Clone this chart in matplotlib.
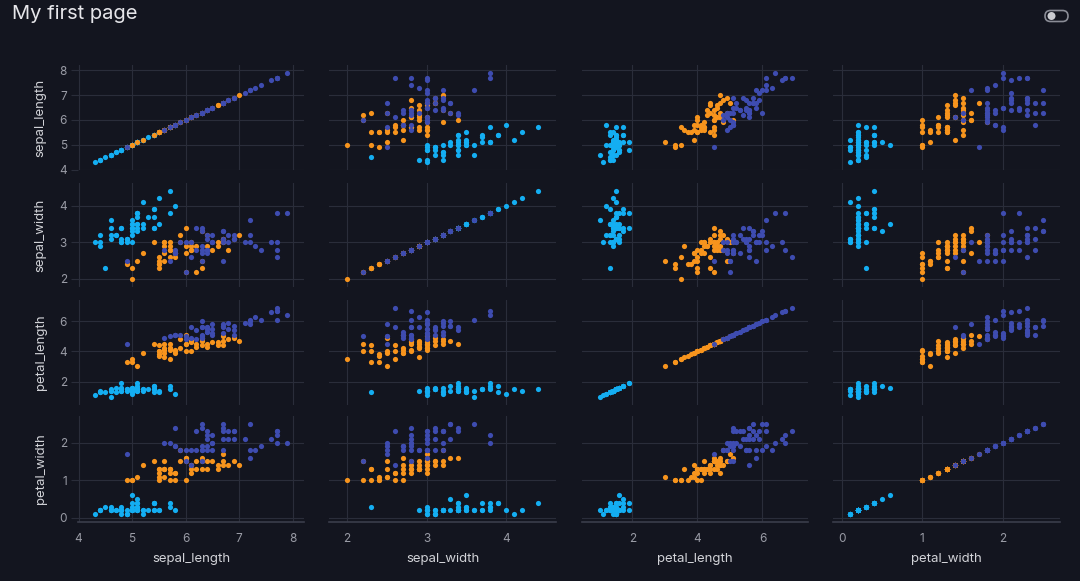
"""Scatter matrix of the iris measurements, dark dashboard style."""

import matplotlib
matplotlib.use("Agg")
import matplotlib.pyplot as plt
from matplotlib.patches import FancyBboxPatch, Circle

# iris measurements (setosa 1-50, versicolor 51-100, virginica 101-150)
sepal_length = [
    5.1, 4.9, 4.7, 4.6, 5.0, 5.4, 4.6, 5.0, 4.4, 4.9, 5.4, 4.8, 4.8, 4.3, 5.8, 5.7, 5.4, 5.1, 5.7, 5.1,
    5.4, 5.1, 4.6, 5.1, 4.8, 5.0, 5.0, 5.2, 5.2, 4.7, 4.8, 5.4, 5.2, 5.5, 4.9, 5.0, 5.5, 4.9, 4.4, 5.1,
    5.0, 4.5, 4.4, 5.0, 5.1, 4.8, 5.1, 4.6, 5.3, 5.0,
    7.0, 6.4, 6.9, 5.5, 6.5, 5.7, 6.3, 4.9, 6.6, 5.2, 5.0, 5.9, 6.0, 6.1, 5.6, 6.7, 5.6, 5.8, 6.2, 5.6,
    5.9, 6.1, 6.3, 6.1, 6.4, 6.6, 6.8, 6.7, 6.0, 5.7, 5.5, 5.5, 5.8, 6.0, 5.4, 6.0, 6.7, 6.3, 5.6, 5.5,
    5.5, 6.1, 5.8, 5.0, 5.6, 5.7, 5.7, 6.2, 5.1, 5.7,
    6.3, 5.8, 7.1, 6.3, 6.5, 7.6, 4.9, 7.3, 6.7, 7.2, 6.5, 6.4, 6.8, 5.7, 5.8, 6.4, 6.5, 7.7, 7.7, 6.0,
    6.9, 5.6, 7.7, 6.3, 6.7, 7.2, 6.2, 6.1, 6.4, 7.2, 7.4, 7.9, 6.4, 6.3, 6.1, 7.7, 6.3, 6.4, 6.0, 6.9,
    6.7, 6.9, 5.8, 6.8, 6.7, 6.7, 6.3, 6.5, 6.2, 5.9,
]
sepal_width = [
    3.5, 3.0, 3.2, 3.1, 3.6, 3.9, 3.4, 3.4, 2.9, 3.1, 3.7, 3.4, 3.0, 3.0, 4.0, 4.4, 3.9, 3.5, 3.8, 3.8,
    3.4, 3.7, 3.6, 3.3, 3.4, 3.0, 3.4, 3.5, 3.4, 3.2, 3.1, 3.4, 4.1, 4.2, 3.1, 3.2, 3.5, 3.1, 3.0, 3.4,
    3.5, 2.3, 3.2, 3.5, 3.8, 3.0, 3.8, 3.2, 3.7, 3.3,
    3.2, 3.2, 3.1, 2.3, 2.8, 2.8, 3.3, 2.4, 2.9, 2.7, 2.0, 3.0, 2.2, 2.9, 2.9, 3.1, 3.0, 2.7, 2.2, 2.5,
    3.2, 2.8, 2.5, 2.8, 2.9, 3.0, 2.8, 3.0, 2.9, 2.6, 2.4, 2.4, 2.7, 2.7, 3.0, 3.4, 3.1, 2.3, 3.0, 2.5,
    2.6, 3.0, 2.6, 2.3, 2.7, 3.0, 2.9, 2.9, 2.5, 2.8,
    3.3, 2.7, 3.0, 2.9, 3.0, 3.0, 2.5, 2.9, 2.5, 3.6, 3.2, 2.7, 3.0, 2.5, 2.8, 3.2, 3.0, 3.8, 2.6, 2.2,
    3.2, 2.8, 2.8, 2.7, 3.3, 3.2, 2.8, 3.0, 2.8, 3.0, 2.8, 3.8, 2.8, 2.8, 2.6, 3.0, 3.4, 3.1, 3.0, 3.1,
    3.1, 3.1, 2.7, 3.2, 3.3, 3.0, 2.5, 3.0, 3.4, 3.0,
]
petal_length = [
    1.4, 1.4, 1.3, 1.5, 1.4, 1.7, 1.4, 1.5, 1.4, 1.5, 1.5, 1.6, 1.4, 1.1, 1.2, 1.5, 1.3, 1.4, 1.7, 1.5,
    1.7, 1.5, 1.0, 1.7, 1.9, 1.6, 1.6, 1.5, 1.4, 1.6, 1.6, 1.5, 1.5, 1.4, 1.5, 1.2, 1.3, 1.5, 1.3, 1.5,
    1.3, 1.3, 1.3, 1.6, 1.9, 1.4, 1.6, 1.4, 1.5, 1.4,
    4.7, 4.5, 4.9, 4.0, 4.6, 4.5, 4.7, 3.3, 4.6, 3.9, 3.5, 4.2, 4.0, 4.7, 3.6, 4.4, 4.5, 4.1, 4.5, 3.9,
    4.8, 4.0, 4.9, 4.7, 4.3, 4.4, 4.8, 5.0, 4.5, 3.5, 3.8, 3.7, 3.9, 5.1, 4.5, 4.5, 4.7, 4.4, 4.1, 4.0,
    4.4, 4.6, 4.0, 3.3, 4.2, 4.2, 4.2, 4.3, 3.0, 4.1,
    6.0, 5.1, 5.9, 5.6, 5.8, 6.6, 4.5, 6.3, 5.8, 6.1, 5.1, 5.3, 5.5, 5.0, 5.1, 5.3, 5.5, 6.7, 6.9, 5.0,
    5.7, 4.9, 6.7, 4.9, 5.7, 6.0, 4.8, 4.9, 5.6, 5.8, 6.1, 6.4, 5.6, 5.1, 5.6, 6.1, 5.6, 5.5, 4.8, 5.4,
    5.6, 5.1, 5.1, 5.9, 5.7, 5.2, 5.0, 5.2, 5.4, 5.1,
]
petal_width = [
    0.2, 0.2, 0.2, 0.2, 0.2, 0.4, 0.3, 0.2, 0.2, 0.1, 0.2, 0.2, 0.1, 0.1, 0.2, 0.4, 0.4, 0.3, 0.3, 0.3,
    0.2, 0.4, 0.2, 0.5, 0.2, 0.2, 0.4, 0.2, 0.2, 0.2, 0.2, 0.4, 0.1, 0.2, 0.1, 0.2, 0.2, 0.1, 0.2, 0.2,
    0.3, 0.3, 0.2, 0.6, 0.4, 0.3, 0.2, 0.2, 0.2, 0.2,
    1.4, 1.5, 1.5, 1.3, 1.5, 1.3, 1.6, 1.0, 1.3, 1.4, 1.0, 1.5, 1.0, 1.4, 1.3, 1.4, 1.5, 1.0, 1.5, 1.1,
    1.8, 1.3, 1.5, 1.2, 1.3, 1.4, 1.4, 1.7, 1.5, 1.0, 1.1, 1.0, 1.2, 1.6, 1.5, 1.6, 1.5, 1.3, 1.3, 1.3,
    1.2, 1.4, 1.2, 1.0, 1.3, 1.2, 1.3, 1.3, 1.1, 1.3,
    2.5, 1.9, 2.1, 1.8, 2.2, 2.1, 1.7, 1.8, 1.8, 2.5, 2.0, 1.9, 2.1, 2.0, 2.4, 2.3, 1.8, 2.2, 2.3, 1.5,
    2.3, 2.0, 2.0, 1.8, 2.1, 1.8, 1.8, 1.8, 2.1, 1.6, 1.9, 2.0, 2.2, 1.5, 1.4, 2.3, 2.4, 1.8, 1.8, 2.1,
    2.4, 2.3, 1.9, 2.3, 2.5, 2.3, 1.9, 2.0, 2.3, 1.8,
]
species_names = ["setosa", "versicolor", "virginica"]
species_counts = [50, 50, 50]

dimensions = ["sepal_length", "sepal_width", "petal_length", "petal_width"]
dim_ticks = {
    "sepal_length": [4, 5, 6, 7, 8],
    "sepal_width": [2, 3, 4],
    "petal_length": [2, 4, 6],
    "petal_width": [0, 1, 2],
}
dim_range = {
    "sepal_length": (3.99, 8.21),
    "sepal_width": (1.78, 4.62),
    "petal_length": (0.45, 7.4),
    "petal_width": (-0.11, 2.71),
}

BG = "#13151f"
GRID = "#2a2d3a"
TICK = "#9a9ca6"
LABEL = "#d2d3d8"
COLORS = {"setosa": "#14aef2", "versicolor": "#f7941d", "virginica": "#3e4cb0"}

plt.rcParams["font.family"] = ["Inter", "DejaVu Sans"]

W, H = 1080, 581
fig = plt.figure(figsize=(W / 100, H / 100), dpi=100, facecolor=BG)

# panel extents in pixels
col_px = [(78, 304), (329, 556), (582, 808), (833, 1060)]
row_px = [(65, 170), (183, 287), (300, 405), (416, 522)]

data = {
    "sepal_length": sepal_length,
    "sepal_width": sepal_width,
    "petal_length": petal_length,
    "petal_width": petal_width,
}

# split indices per species
bounds = []
start = 0
for n in species_counts:
    bounds.append((start, start + n))
    start += n

for r, ydim in enumerate(dimensions):
    for c, xdim in enumerate(dimensions):
        x0, x1 = col_px[c]
        y0, y1 = row_px[r]
        ax = fig.add_axes([x0 / W, 1 - y1 / H, (x1 - x0) / W, (y1 - y0) / H])
        ax.set_facecolor("none")
        for name, (a, b) in zip(species_names, bounds):
            ax.scatter(data[xdim][a:b], data[ydim][a:b], s=14, color=COLORS[name],
                       linewidths=0, zorder=3)
        ax.set_xlim(*dim_range[xdim])
        ax.set_ylim(*dim_range[ydim])
        ax.set_xticks(dim_ticks[xdim])
        ax.set_yticks(dim_ticks[ydim])
        ax.grid(True, color=GRID, linewidth=0.8)
        ax.set_axisbelow(True)
        for side in ["top", "right", "left", "bottom"]:
            ax.spines[side].set_visible(False)
        ax.tick_params(axis="x", length=0, pad=8, labelsize=8.5, labelcolor=TICK,
                       labelbottom=(r == 3))
        if c == 0:
            ax.tick_params(axis="y", length=5, width=0.8, color=GRID, pad=3,
                           labelsize=8.5, labelcolor=TICK)
            ax.set_ylabel(ydim, color=LABEL, fontsize=9.5, labelpad=9)
        else:
            ax.tick_params(axis="y", length=0, labelleft=False)
        if r == 3:
            ax.spines["bottom"].set_visible(True)
            ax.spines["bottom"].set_color("#3a3d4b")
            ax.spines["bottom"].set_linewidth(1.2)
            ax.set_xlabel(xdim, color=LABEL, fontsize=9.5, labelpad=6)

# title and toggle switch
fig.text(12 / W, 1 - 14 / H, "My first page", color="#e6e6ea", fontsize=14.5,
         ha="left", va="center")
over = fig.add_axes([0, 0, 1, 1])
over.set_xlim(0, W)
over.set_ylim(H, 0)
over.axis("off")
over.add_patch(FancyBboxPatch((1045, 10.5), 23, 11, boxstyle="round,pad=0,rounding_size=5.5",
                              facecolor="none", edgecolor="#8a8c96", linewidth=1.2))
over.add_patch(Circle((1051.5, 16), 4, facecolor="#c9cacf", edgecolor="none"))

fig.savefig("out.png", dpi=100, facecolor=BG)
